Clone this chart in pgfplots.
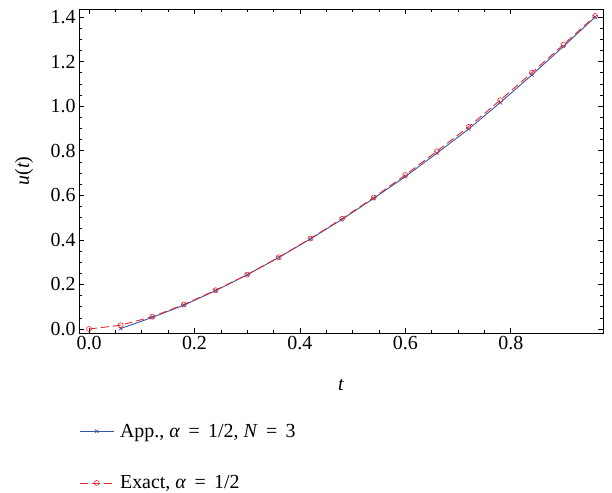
\documentclass[border=0pt]{standalone}
\usepackage{fontspec}
\setmainfont{Liberation Serif}
\usepackage{pgfplots}
\pgfplotsset{compat=1.18}
\definecolor{appblue}{RGB}{55,85,165}
\definecolor{exred}{RGB}{232,38,46}
\newcommand{\eqsp}{\hspace{0.42em}=\hspace{0.42em}}

\begin{document}
\begin{tikzpicture}[x=1bp,y=1bp]
\path[use as bounding box] (0,0) rectangle (612,493);
\begin{axis}[
	at={(79bp,160bp)}, anchor=south west,
	scale only axis,
	width=524bp, height=324bp,
	xmin=-0.019, xmax=0.975,
	ymin=-0.018, ymax=1.436,
	xtick={0,0.2,...,0.8},
	ytick={0,0.2,...,1.4},
	minor x tick num=3, minor y tick num=3,
	tick align=inside,
	major tick length=5bp, minor tick length=3bp,
	tick style={black, line width=0.6pt},
	axis line style={line width=0.9pt},
	xticklabel style={/pgf/number format/.cd, fixed, fixed zerofill, precision=1},
	yticklabel style={/pgf/number format/.cd, fixed, fixed zerofill, precision=1},
	/pgf/number format/assume math mode=true,
	tick label style={font=\fontsize{20}{24}\selectfont},
	label style={font=\fontsize{20}{24}\selectfont},
	xlabel={\textit{t}},
	ylabel={\textit{u}(\textit{t})},
	xlabel style={at={(axis description cs:0.5,-0.16)}, anchor=center},
	ylabel style={at={(axis description cs:-0.105,0.5)}, anchor=center},
	legend cell align=left,
	legend style={draw=none, fill=none, at={(0,-0.274)}, anchor=north west,
		inner sep=0pt, row sep=33bp,
		nodes={inner xsep=6bp},
		font=\fontsize{20}{24}\selectfont},
	legend image code/.code={
		\draw[#1] (0bp,0bp) -- (34bp,0bp);
		\draw[#1, solid] plot coordinates {(17bp,0bp)};
	},
]
\addplot[appblue, line width=0.9pt, mark=x, mark size=2.5pt, mark options={solid, line width=0.6pt}]
coordinates {
(0.06,0.002) (0.12,0.052) (0.18,0.107) (0.24,0.172) (0.30,0.243)
(0.36,0.321) (0.42,0.404) (0.48,0.492) (0.54,0.586) (0.60,0.684)
(0.66,0.789) (0.72,0.897) (0.78,1.016) (0.84,1.140) (0.90,1.268)
(0.96,1.400)
};
\addlegendentry{App., \textit{α}\eqsp1/2, \textit{N}\eqsp3}
\addplot[exred, line width=0.9pt, dash pattern=on 8bp off 4bp, mark=o, mark size=2.5pt, mark options={solid, line width=0.6pt}]
coordinates {
(0.00,0.000) (0.06,0.017) (0.12,0.055) (0.18,0.110) (0.24,0.174)
(0.30,0.244) (0.36,0.322) (0.42,0.406) (0.48,0.495) (0.54,0.590)
(0.60,0.691) (0.66,0.798) (0.72,0.907) (0.78,1.027) (0.84,1.150)
(0.90,1.276) (0.96,1.405)
};
\addlegendentry{Exact, \textit{α}\eqsp1/2}
\end{axis}
\end{tikzpicture}
\end{document}
